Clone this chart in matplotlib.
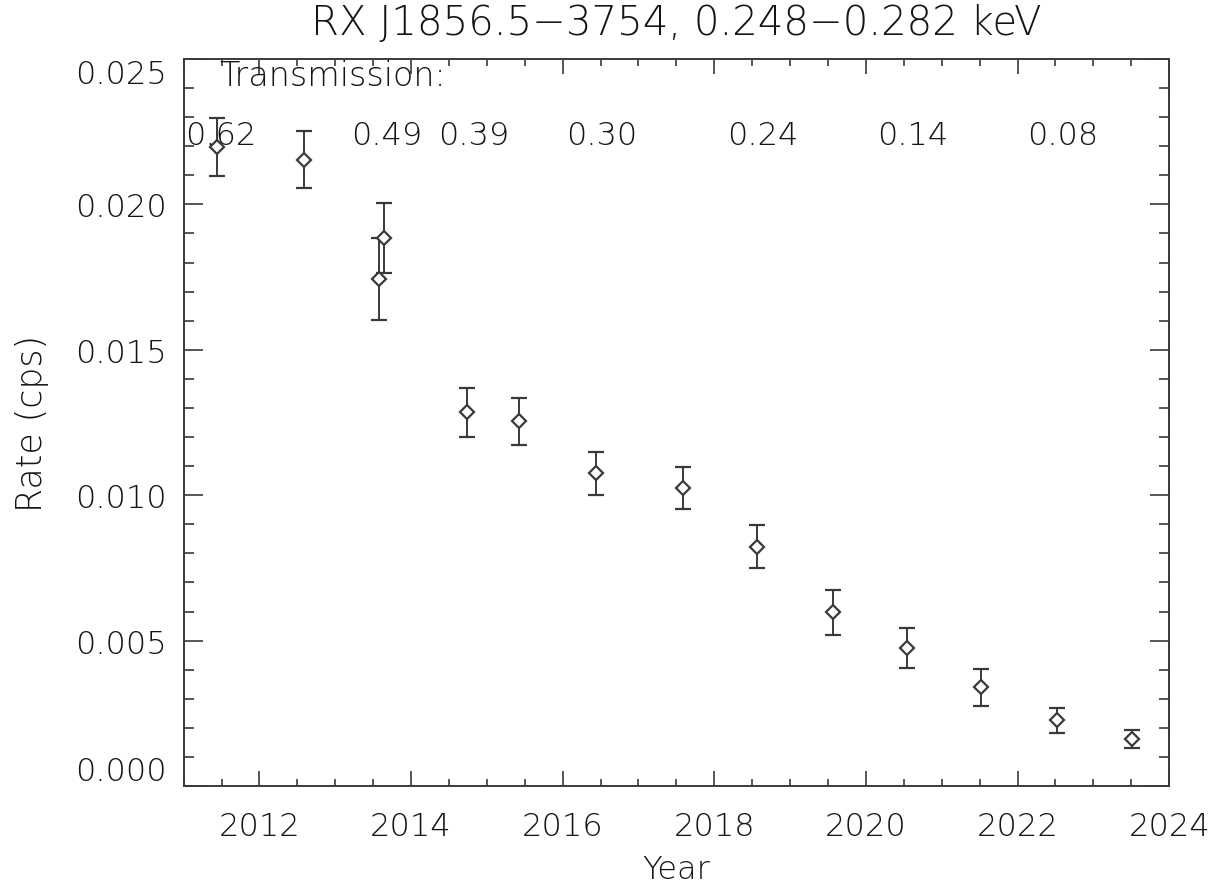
import matplotlib
matplotlib.use('Agg')
import matplotlib.pyplot as plt
from matplotlib.ticker import MultipleLocator

# light-rate measurements, one per epoch
year = [2011.435, 2012.587, 2013.577, 2013.643, 2014.741, 2015.424, 2016.435,
        2017.591, 2018.559, 2019.562, 2020.542, 2021.518, 2022.521, 2023.511]
rate = [0.02196, 0.02154, 0.01743, 0.01884, 0.01285, 0.01254, 0.01076,
        0.01024, 0.00823, 0.00597, 0.00475, 0.00340, 0.00227, 0.00162]
rate_err = [0.00100, 0.00097, 0.00140, 0.00120, 0.00085, 0.00080, 0.00074,
            0.00073, 0.00075, 0.00076, 0.00069, 0.00064, 0.00043, 0.00031]

# filter transmission at various times
trans_year = [2011.49, 2013.68, 2014.83, 2016.52, 2018.64, 2020.62, 2022.60]
trans_val = ['0.62', '0.49', '0.39', '0.30', '0.24', '0.14', '0.08']

ink = '#3a3a3a'
txt = '#151515'
plt.rcParams['font.family'] = ['DejaVu Sans']
plt.rcParams['font.weight'] = 'light'
plt.rcParams['axes.titleweight'] = 'light'
plt.rcParams['axes.labelweight'] = 'light'
plt.rcParams['text.color'] = txt

fig = plt.figure(figsize=(12.16, 8.87), dpi=100)
ax = fig.add_axes([0.151, 0.1127, 0.8105, 0.8197])

ax.errorbar(year, rate, yerr=rate_err, fmt='D', ms=7, mfc='white', mec=ink,
            mew=1.6, ecolor=ink, elinewidth=1.4, capsize=5.5, capthick=1.4)

ax.set_xlim(2011, 2024)
ax.set_ylim(0, 0.025)
ax.xaxis.set_major_locator(MultipleLocator(2))
ax.xaxis.set_minor_locator(MultipleLocator(0.5))
ax.set_yticks([0.0, 0.005, 0.010, 0.015, 0.020, 0.025])
ax.yaxis.set_minor_locator(MultipleLocator(0.001))
ax.yaxis.set_major_formatter(plt.FormatStrFormatter('%.3f'))

for s in ax.spines.values():
    s.set_color(ink)
    s.set_linewidth(1.4)
ax.tick_params(which='both', direction='in', top=True, right=True, color=ink,
               width=1.2, labelcolor=txt, labelsize=23)
ax.tick_params(axis='y', which='major', length=14, pad=12)
ax.tick_params(axis='y', which='minor', length=7.5)
ax.tick_params(axis='x', which='major', length=11, pad=18)
ax.tick_params(axis='x', which='minor', length=5)

ax.set_xlabel('Year', fontsize=23, color=txt, labelpad=9)
ax.set_ylabel('Rate (cps)', fontsize=25, color=txt, labelpad=19)
ax.set_title('RX J1856.5\u22123754, 0.248\u22120.282 keV', fontsize=29,
             color=txt, pad=18)

# keep the end labels inside the frame
fig.canvas.draw()
for tick in ax.yaxis.get_major_ticks():
    if abs(tick.get_loc()) < 1e-9:
        tick.label1.set_verticalalignment('bottom')
    elif abs(tick.get_loc() - 0.025) < 1e-9:
        tick.label1.set_verticalalignment('top')
    else:
        tick.label1.set_verticalalignment('center_baseline')

ax.text(0.036, 0.977, 'Transmission:', transform=ax.transAxes, fontsize=24,
        va='center', ha='left', color=txt)
for x, t in zip(trans_year, trans_val):
    ax.text(x, 0.895, t, transform=ax.get_xaxis_transform(), fontsize=23,
            va='center', ha='center', color=txt)

fig.savefig('out.png', dpi=100, facecolor='white')
